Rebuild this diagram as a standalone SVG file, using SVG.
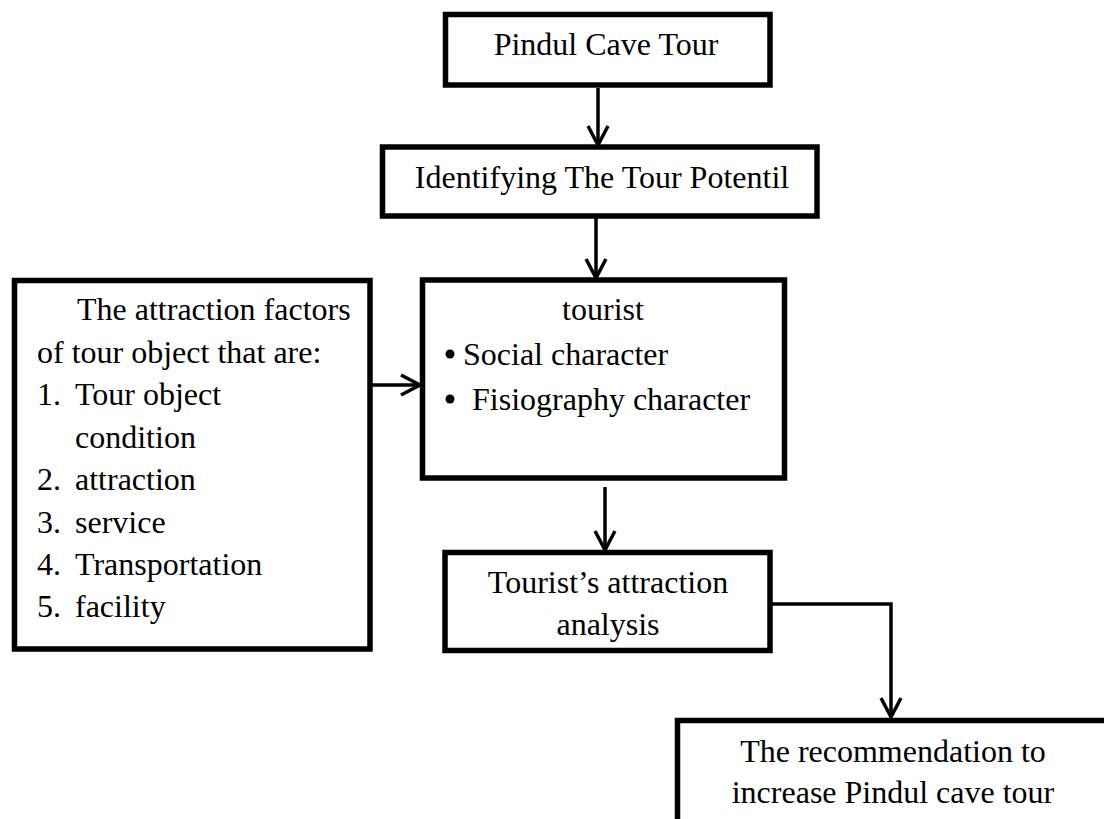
<svg xmlns="http://www.w3.org/2000/svg" width="1104" height="819" viewBox="0 0 1104 819">
<style>
.box{fill:#fff;stroke:#000;stroke-width:5.5}
.t{font-family:"Liberation Serif","Times New Roman",serif;font-size:32px;fill:#000}
.c{text-anchor:middle}
.conn{fill:none;stroke:#000;stroke-width:3.5}
</style>
<defs>
<marker id="arr" viewBox="0 0 24 24" markerWidth="24" markerHeight="24" refX="21" refY="12" orient="auto" markerUnits="userSpaceOnUse" overflow="visible">
<path d="M2,2 L21,12 L2,22" fill="none" stroke="#000" stroke-width="3.5" stroke-linejoin="miter"/>
</marker>
</defs>
<rect width="1104" height="819" fill="#fff"/>
<g id="connectors">
<path class="conn" d="M598,88 L598,145" marker-end="url(#arr)"/>
<path class="conn" d="M596,218 L596,278" marker-end="url(#arr)"/>
<path class="conn" d="M362,385 L420,385" marker-end="url(#arr)"/>
<path class="conn" d="M605,487 L605,550" marker-end="url(#arr)"/>
<path class="conn" d="M772,604 L891,604 L891,717" marker-end="url(#arr)"/>
</g>
<g id="node-pindul">
<rect class="box" x="445.5" y="14.5" width="324.5" height="70.5"/>
<text class="t c" x="606" y="55">Pindul Cave Tour</text>
</g>
<g id="node-identifying">
<rect class="box" x="382.5" y="147" width="434.5" height="69"/>
<text class="t c" x="602" y="188">Identifying The Tour Potentil</text>
</g>
<g id="node-factors">
<rect class="box" x="14.5" y="280.5" width="355.5" height="368.5"/>
<text class="t" x="77" y="320">The attraction factors</text>
<text class="t" x="37" y="363">of tour object that are:</text>
<text class="t" x="37" y="405">1.</text><text class="t" x="75" y="405">Tour object</text>
<text class="t" x="75" y="448">condition</text>
<text class="t" x="37" y="490">2.</text><text class="t" x="75" y="490">attraction</text>
<text class="t" x="37" y="533">3.</text><text class="t" x="75" y="533">service</text>
<text class="t" x="37" y="575">4.</text><text class="t" x="75" y="575">Transportation</text>
<text class="t" x="37" y="617">5.</text><text class="t" x="75" y="617">facility</text>
</g>
<g id="node-tourist">
<rect class="box" x="422.5" y="280" width="362" height="198"/>
<text class="t c" x="603" y="320">tourist</text>
<circle cx="450" cy="354" r="4.5" fill="#000"/>
<text class="t" x="463" y="365">Social character</text>
<circle cx="450" cy="399" r="4.5" fill="#000"/>
<text class="t" x="472" y="410">Fisiography character</text>
</g>
<g id="node-analysis">
<rect class="box" x="445" y="552.5" width="325" height="98"/>
<text class="t c" x="608" y="593">Tourist’s attraction</text>
<text class="t c" x="608" y="635">analysis</text>
</g>
<g id="node-recommendation">
<rect class="box" x="677.5" y="720.5" width="440" height="120"/>
<text class="t c" x="893" y="762">The recommendation to</text>
<text class="t c" x="893" y="803">increase Pindul cave tour</text>
</g>
</svg>
